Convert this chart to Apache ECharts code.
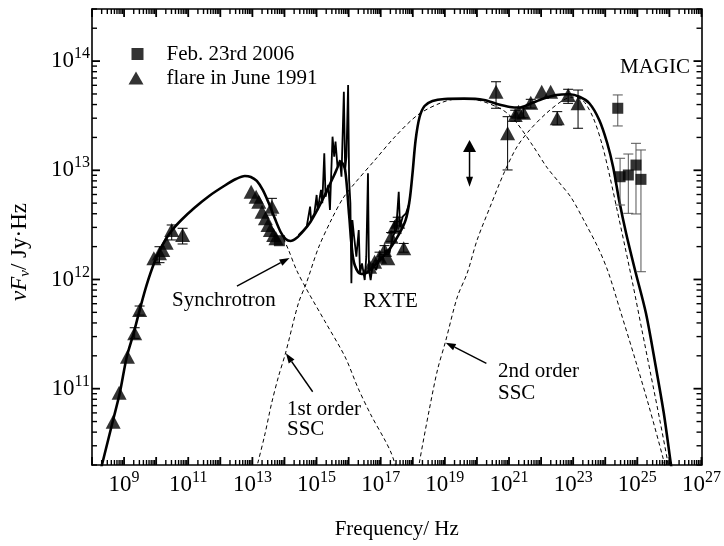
<!DOCTYPE html>
<html><head><meta charset="utf-8">
<script src="https://cdn.jsdelivr.net/npm/echarts@6/dist/echarts.min.js"></script>
<style>html,body{margin:0;padding:0;background:#fff}#c{width:724px;height:546px}</style>
</head><body><div id="c"></div>
<script>
// All values as [log10(frequency / Hz), log10(νFν / Jy·Hz)]
const modelCurve = [[8.271,10.255],[8.309,10.301],[8.650,10.704],[8.866,10.960],[9.083,11.290],[9.300,11.510],[9.485,11.720],[9.702,11.949],[9.950,12.160],[10.197,12.316],[10.476,12.444],[10.785,12.545],[11.187,12.655],[11.652,12.765],[12.116,12.856],[12.487,12.920],[12.766,12.948],[12.951,12.939],[13.137,12.902],[13.323,12.820],[13.508,12.700],[13.694,12.563],[13.880,12.435],[14.034,12.371],[14.189,12.352],[14.375,12.380],[14.591,12.444],[14.808,12.526],[15.056,12.655],[15.303,12.801],[15.551,12.957],[15.767,13.076],[15.891,13.003],[16.015,12.591],[16.138,12.197],[16.293,12.069],[16.479,12.050],[16.726,12.105],[17.036,12.197],[17.345,12.307],[17.593,12.426],[17.778,12.545],[17.902,12.728],[17.995,12.984],[18.088,13.277],[18.212,13.488],[18.367,13.589],[18.614,13.635],[18.985,13.653],[19.604,13.656],[20.223,13.644],[20.625,13.607],[21.028,13.580],[21.337,13.575],[21.646,13.607],[22.080,13.657],[22.482,13.690],[22.884,13.696],[23.194,13.674],[23.503,13.614],[23.812,13.461],[24.060,13.250],[24.245,13.030],[24.431,12.728],[24.648,12.426],[24.927,12.087],[25.267,11.693],[25.577,11.198],[25.824,10.777],[26.041,10.319],[26.072,10.255]];
const synchrotron = [[8.271,10.255],[8.309,10.301],[8.650,10.704],[8.866,10.960],[9.083,11.290],[9.300,11.510],[9.485,11.720],[9.702,11.949],[9.950,12.160],[10.197,12.316],[10.476,12.444],[10.785,12.545],[11.187,12.655],[11.652,12.765],[12.116,12.856],[12.487,12.920],[12.766,12.948],[12.951,12.939],[13.137,12.902],[13.323,12.820],[13.508,12.700],[13.694,12.563],[13.880,12.435],[14.127,12.270],[14.375,12.087],[14.684,11.913],[15.272,11.611],[15.891,11.290],[16.293,11.006],[16.696,10.759],[17.129,10.530],[17.314,10.420],[17.438,10.319],[17.500,10.255]];
const ssc1 = [[13.106,10.255],[13.168,10.319],[13.385,10.576],[13.601,10.869],[13.818,11.116],[14.034,11.327],[14.437,11.785],[14.684,11.968],[15.056,12.288],[15.458,12.545],[15.829,12.746],[16.200,12.884],[16.819,13.094],[17.438,13.305],[18.150,13.506],[18.862,13.616],[19.388,13.653],[20.006,13.644],[20.625,13.580],[20.935,13.525],[21.244,13.433],[21.770,13.213],[22.173,13.030],[22.575,12.884],[22.946,12.746],[23.410,12.499],[23.782,12.288],[24.091,12.069],[24.462,11.720],[24.958,11.244],[25.360,10.841],[25.793,10.374],[25.886,10.255]];
const ssc2 = [[18.181,10.255],[18.203,10.319],[18.512,10.805],[18.769,11.171],[19.016,11.427],[19.388,11.840],[19.697,12.059],[20.006,12.362],[20.409,12.664],[20.842,12.975],[21.244,13.213],[21.646,13.369],[22.173,13.525],[22.699,13.644],[23.008,13.671],[23.317,13.635],[23.627,13.479],[23.905,13.232],[24.153,12.929],[24.370,12.636],[24.617,12.297],[24.865,11.949],[25.143,11.537],[25.422,11.125],[25.700,10.713],[25.948,10.328],[25.979,10.255]];
const opticalXray = [[14.437,12.407],[14.591,12.453],[14.693,12.483],[14.799,12.667],[14.830,12.545],[14.932,12.606],[15.003,12.774],[15.034,12.636],[15.139,12.820],[15.179,12.698],[15.241,13.156],[15.281,12.758],[15.365,12.865],[15.418,12.636],[15.498,13.308],[15.551,13.124],[15.591,13.262],[15.653,13.033],[15.727,13.094],[15.777,12.941],[15.851,13.720],[15.891,13.003],[15.931,13.124],[15.984,13.781],[16.015,12.911],[16.055,12.698],[16.086,11.965],[16.117,12.545],[16.170,12.392],[16.241,12.209],[16.315,12.453],[16.355,12.057],[16.417,12.148],[16.501,11.995],[16.550,12.209],[16.603,12.972],[16.634,12.087],[16.686,11.995],[16.757,12.148],[16.860,12.087],[16.964,12.209],[17.067,12.178],[17.169,12.270],[17.274,12.240],[17.376,12.392],[17.479,12.453],[17.562,12.804],[17.602,12.483],[17.686,12.575],[17.788,12.606],[17.893,12.698]];
const flare1991 = [[8.660,10.698],[8.845,10.963],[9.105,11.293],[9.331,11.507],[9.485,11.720],[9.928,12.194],[10.104,12.240],[10.206,12.270],[10.312,12.337],[10.485,12.453],[10.825,12.407],[12.961,12.804],[13.116,12.758],[13.199,12.712],[13.301,12.621],[13.406,12.560],[13.487,12.499],[13.561,12.453],[13.663,12.407],[13.734,12.377],[13.610,12.667],[16.655,12.117],[16.810,12.163],[16.964,12.209],[17.119,12.270],[17.222,12.194],[17.324,12.392],[17.429,12.483],[17.531,12.529],[17.717,12.286],[20.595,13.720],[20.956,13.339],[21.193,13.506],[21.297,13.537],[21.452,13.527],[21.678,13.619],[22.019,13.720],[22.297,13.720],[22.503,13.476],[22.843,13.690],[23.152,13.614]];
// [log10 ν, log10 low, log10 high]
const flare1991Err = [[9.331,11.461,11.558],[9.485,11.674,11.757],[10.104,12.154,12.300],[10.485,12.362,12.499],[10.825,12.325,12.469],[13.610,12.590,12.743],[16.964,12.17,12.25],[17.119,12.23,12.31],[17.324,12.35,12.43],[17.429,12.44,12.53],[17.531,12.49,12.57],[17.717,12.25,12.33],[20.595,13.568,13.811],[20.956,13.003,13.491],[21.193,13.45,13.55],[21.452,13.48,13.57],[21.678,13.57,13.650],[22.503,13.415,13.537],[22.843,13.613,13.742],[23.152,13.385,13.735]];
const feb2006 = [[13.842,12.355],[24.390,13.568],[24.462,12.941],[24.719,12.957],[24.958,13.048],[25.113,12.917]];
const feb2006Err = [[24.390,13.406,13.690],[24.462,12.682,13.110],[24.719,12.606,13.149],[24.958,12.600,13.247],[25.113,12.071,13.186]];
// [log10 ν, log10 lower tip, log10 upper tip]
const limitArrow = [[19.769,12.850,13.277]];
const xLabelExp = [9,11,13,15,17,19,21,23,25,27];
const yLabelExp = [11,12,13,14];
const xRange = [1e8, 1.00001e27];
const yRange = [2e10, 3e14];

// annotation layout (tail -> head, in log10 data units)
const arrowNotes = [[12.518,11.940,14.158,12.197],[14.879,10.972,14.044,11.324],[20.294,11.232,19.026,11.421]];

const FONT = 'Liberation Serif';
const toLin = a => a.map(p => p.map(v => Math.pow(10, v)));
const num = (k, e) => parseFloat(k + 'e' + e);

// tick positions of the log axes: decades (long) and 2..9 x decade (short)
const xMajor = [], xMinor = [], yMajor = [], yMinor = [];
for (let e = 8; e <= 27; e++) { xMajor.push(num(1, e)); if (e < 27) for (let k = 2; k <= 9; k++) xMinor.push(num(k, e)); }
for (let e = 10; e <= 14; e++) for (let k = 1; k <= 9; k++) { const v = num(k, e); if (v >= yRange[0] && v <= yRange[1]) (k === 1 ? yMajor : yMinor).push(v); }

const rich = {
  b: {fontFamily: FONT, fontSize: 23, lineHeight: 30, color: '#000'},
  s: {fontFamily: FONT, fontSize: 16, lineHeight: 15, verticalAlign: 'top', color: '#000'}
};
const fmt = v => '{b|10}{s|' + Math.round(Math.log10(v)) + '}';

function axis(dim, pos, labels) {
  return {
    type: 'log', logBase: 10, position: pos,
    min: dim === 'x' ? xRange[0] : yRange[0], max: dim === 'x' ? xRange[1] : yRange[1],
    splitLine: {show: false},
    axisLine: {show: true, lineStyle: {color: '#000', width: 1.6}},
    axisTick: {show: false},
    axisLabel: labels ? {show: true, showMaxLabel: true, showMinLabel: true, customValues: labels.map(e => num(1, e)), formatter: fmt, rich: rich, margin: dim === 'x' ? 5 : 2} : {show: false}
  };
}

const xAxes = [axis('x', 'bottom', xLabelExp), axis('x', 'top', null)];
xAxes[0].name = 'Frequency/ Hz';
xAxes[0].nameLocation = 'middle';
xAxes[0].nameGap = 54;
xAxes[0].nameTextStyle = {fontFamily: FONT, fontSize: 21, color: '#000'};
const yAxes = [axis('y', 'left', yLabelExp), axis('y', 'right', null)];

// tick marks on the four frame sides: thin bar symbols sitting on the frame, pushed inward
function tickMarks(values, side, len, thick) {
  const data = values.map(v => side === 'bottom' ? [v, yRange[0]] : side === 'top' ? [v, yRange[1]] : side === 'left' ? [xRange[0], v] : [xRange[1], v]);
  const vertical = side === 'bottom' || side === 'top';
  const off = {bottom: [0, -len / 2], top: [0, len / 2], left: [len / 2, 0], right: [-len / 2, 0]}[side];
  return {name: 'ticks-' + side + len, type: 'scatter', data: data, symbol: 'rect',
    symbolSize: vertical ? [thick, len] : [len, thick], symbolOffset: off, clip: false, silent: true, z: 6,
    itemStyle: {color: '#000', opacity: 1}, emphasis: {disabled: true}};
}

function errBar(color) {
  return function (params, api) {
    const x = api.value(0);
    const p1 = api.coord([x, api.value(1)]);
    const p2 = api.coord([x, api.value(2)]);
    const w = 5;
    const st = {stroke: color, lineWidth: 1};
    return {type: 'group', children: [
      {type: 'line', shape: {x1: p1[0], y1: p1[1], x2: p2[0], y2: p2[1]}, style: st},
      {type: 'line', shape: {x1: p1[0] - w, y1: p1[1], x2: p1[0] + w, y2: p1[1]}, style: st},
      {type: 'line', shape: {x1: p2[0] - w, y1: p2[1], x2: p2[0] + w, y2: p2[1]}, style: st}
    ]};
  };
}

const dashStyle = {color: '#000', width: 1, type: [4, 3]};
const noteFont = '21px "Liberation Serif"';
const note = (x, y, text) => ({type: 'text', x: x, y: y, style: {text: text, font: noteFont, fill: '#000', align: 'left', verticalAlign: 'middle'}});

const option = {
  animation: false,
  backgroundColor: '#fff',
  grid: {left: 92, right: 18, top: 9, bottom: 81, containLabel: false},
  xAxis: xAxes,
  yAxis: yAxes,
  legend: [
    {data: [{name: 'Feb. 23rd 2006', icon: 'rect'}], left: 131.5, top: 43.5, padding: 0, itemWidth: 12, itemHeight: 12, selectedMode: false,
     textStyle: {fontFamily: FONT, fontSize: 21, color: '#000', padding: [0, 0, 0, 18]}},
    {data: [{name: 'flare in June 1991', icon: 'triangle'}], left: 128.5, top: 67.5, padding: 0, itemWidth: 15, itemHeight: 13, selectedMode: false,
     textStyle: {fontFamily: FONT, fontSize: 21, color: '#000', padding: [0, 0, 0, 18]}}
  ],
  graphic: [
    {type: 'text', x: 20, y: 252, rotation: Math.PI / 2, style: {
      text: '{a|νF}{b|ν}{c|/ Jy·Hz}', align: 'center', verticalAlign: 'middle', fill: '#000',
      rich: {a: {fontFamily: FONT, fontSize: 23, fontStyle: 'italic', lineHeight: 26},
             b: {fontFamily: FONT, fontSize: 15, fontStyle: 'italic', lineHeight: 15, verticalAlign: 'bottom'},
             c: {fontFamily: FONT, fontSize: 23, lineHeight: 26}}}},
    note(172, 300, 'Synchrotron'),
    note(363, 301, 'RXTE'),
    note(287, 409, '1st order'),
    note(287, 429, 'SSC'),
    note(498, 371, '2nd order'),
    note(498, 393, 'SSC'),
    {type: 'text', x: 620, y: 67, style: {text: 'MAGIC', font: '21px "Liberation Serif"', fill: '#000', align: 'left', verticalAlign: 'middle'}}
  ],
  series: [
    {name: 'synchrotron', type: 'line', data: toLin(synchrotron), showSymbol: false, smooth: 0.3, lineStyle: dashStyle, z: 1, silent: true},
    {name: 'ssc1', type: 'line', data: toLin(ssc1), showSymbol: false, smooth: 0.3, lineStyle: dashStyle, z: 1, silent: true},
    {name: 'ssc2', type: 'line', data: toLin(ssc2), showSymbol: false, smooth: 0.3, lineStyle: dashStyle, z: 1, silent: true},
    {name: 'optical-X-ray', type: 'line', data: toLin(opticalXray), showSymbol: false, lineStyle: {color: '#000', width: 1.8}, z: 2, silent: true},
    {name: 'model', type: 'line', data: toLin(modelCurve), showSymbol: false, smooth: 0.3, lineStyle: {color: '#000', width: 2.6}, z: 2, silent: true},
    {name: 'err1991', type: 'custom', data: toLin(flare1991Err), renderItem: errBar('#000'), encode: {x: 0, y: [1, 2]}, z: 3, silent: true},
    {name: 'err2006', type: 'custom', data: toLin(feb2006Err), renderItem: errBar('#555'), encode: {x: 0, y: [1, 2]}, z: 3, silent: true},
    {name: 'flare in June 1991', type: 'scatter', data: toLin(flare1991), symbol: 'triangle', symbolSize: [15, 14], itemStyle: {color: '#000'}, z: 4},
    {name: 'Feb. 23rd 2006', type: 'scatter', data: toLin(feb2006), symbol: 'rect', symbolSize: 11, itemStyle: {color: '#000'}, z: 4},
    {name: 'limit', type: 'custom', data: toLin(limitArrow), encode: {x: 0, y: [1, 2]}, z: 4, silent: true,
     renderItem: function (params, api) {
       const lo = api.coord([api.value(0), api.value(1)]);
       const hi = api.coord([api.value(0), api.value(2)]);
       return {type: 'group', children: [
         {type: 'line', shape: {x1: hi[0], y1: hi[1] + 10, x2: lo[0], y2: lo[1] - 6}, style: {stroke: '#000', lineWidth: 1.5}},
         {type: 'polygon', shape: {points: [[hi[0], hi[1]], [hi[0] - 6.5, hi[1] + 12], [hi[0] + 6.5, hi[1] + 12]]}, style: {fill: '#000'}},
         {type: 'polygon', shape: {points: [[lo[0], lo[1]], [lo[0] - 3.5, lo[1] - 10], [lo[0] + 3.5, lo[1] - 10]]}, style: {fill: '#000'}}
       ]};
     }},
    {name: 'notes', type: 'custom', data: toLin(arrowNotes), encode: {x: [0, 2], y: [1, 3]}, z: 4, silent: true,
     renderItem: function (params, api) {
       const a = api.coord([api.value(0), api.value(1)]);
       const b = api.coord([api.value(2), api.value(3)]);
       const ang = Math.atan2(b[1] - a[1], b[0] - a[0]);
       const L = 10, W = 3.5;
       const bx = b[0] - L * Math.cos(ang), by = b[1] - L * Math.sin(ang);
       const qx = -Math.sin(ang) * W, qy = Math.cos(ang) * W;
       return {type: 'group', children: [
         {type: 'line', shape: {x1: a[0], y1: a[1], x2: bx, y2: by}, style: {stroke: '#000', lineWidth: 1.4}},
         {type: 'polygon', shape: {points: [[b[0], b[1]], [bx + qx, by + qy], [bx - qx, by - qy]]}, style: {fill: '#000'}}
       ]};
     }},
    tickMarks(xMajor, 'bottom', 8, 1.8), tickMarks(xMinor, 'bottom', 5, 1.4),
    tickMarks(xMajor, 'top', 8, 1.8), tickMarks(xMinor, 'top', 5, 1.4),
    tickMarks(yMajor, 'left', 8, 1.8), tickMarks(yMinor, 'left', 5, 1.4),
    tickMarks(yMajor, 'right', 8, 1.8), tickMarks(yMinor, 'right', 5, 1.4)
  ]
};

const chart = echarts.init(document.getElementById('c'), null, {renderer: 'canvas'});
chart.setOption(option);
</script>
</body></html>
